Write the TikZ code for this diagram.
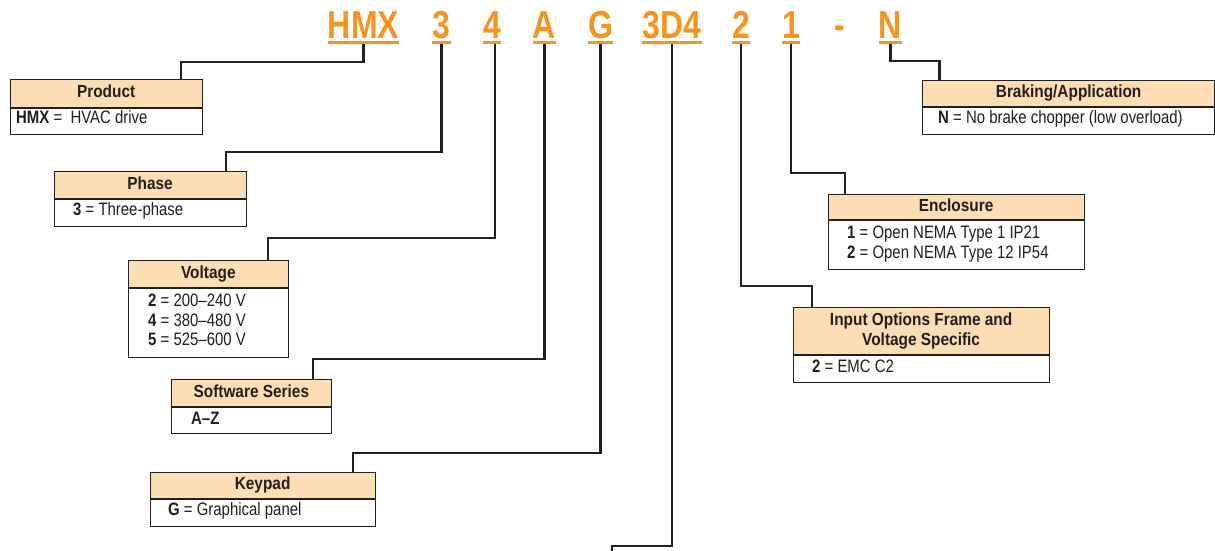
\documentclass[tikz,border=0pt]{standalone}
\usepackage{fontspec}
\setmainfont{Liberation Sans}[FakeStretch=0.83]
\newfontfamily\codefont{Liberation Sans}[FakeStretch=0.82]
\newfontfamily\hdrfont{Liberation Sans}[FakeStretch=0.88]
\usetikzlibrary{calc}
\definecolor{codeorange}{RGB}{247,148,30}
\definecolor{peach}{RGB}{253,221,180}
\definecolor{ink}{RGB}{35,31,32}
\tikzset{
 code/.style={font=\codefont\fontsize{39}{39}\selectfont\bfseries, text=codeorange, inner sep=0pt, anchor=base},
 uline/.style={draw=codeorange, line width=3pt},
 conn/.style={draw=ink, line width=2.2pt},
 hdr/.style={draw=ink, line width=1.2pt, fill=peach, inner sep=0pt, font=\hdrfont\fontsize{17.5}{20}\selectfont\bfseries, text=ink, align=center, anchor=north west},
 hdrone/.style={hdr, text height=12.5pt, text depth=4pt},
 bodybox/.style={draw=ink, line width=1.2pt, inner sep=0pt, anchor=north west},
 entry/.style={font=\fontsize{18}{19}\selectfont, text=ink, inner sep=0pt, anchor=base west},
}
\begin{document}
\begin{tikzpicture}[x=1pt,y=-1pt]
\useasboundingbox[fill=white] (0,0) rectangle (1215,550);

% code letters
\node[code] (hmx) at (363.5,38) {HMX};
\node[code] (three) at (441.5,38) {3};
\node[code] (four) at (492,38) {4};
\node[code] (ca) at (544.5,38) {A};
\node[code] (cg) at (600.5,38) {G};
\node[code] (d4) at (672,38) {3D4};
\node[code] (two) at (741,38) {2};
\node[code] (one) at (791,38) {1};
\node[code] (dash) at (840,38) {-};
\node[code] (cn) at (890.5,38) {N};
\foreach \n in {hmx,three,four,ca,cg,d4,two,one,cn}{
  \draw[uline] ([yshift=-4pt]\n.south west) -- ([yshift=-4pt]\n.south east);
}

% boxes
\node[hdrone, minimum width=192pt, minimum height=27.5pt] (prodH) at (9.5,79) {Product};
\node[bodybox, minimum width=192pt, minimum height=26pt] (prodB) at (prodH.south west) {};
\node[entry] (prodT) at (16,123.5) {\textbf{HMX} = \ HVAC drive};

\node[hdrone, minimum width=192pt, minimum height=27pt] (phaseH) at (53.5,171) {Phase};
\node[bodybox, minimum width=192pt, minimum height=27pt] (phaseB) at (phaseH.south west) {};
\node[entry] (phaseT) at (73,215) {\textbf{3} = Three-phase};

\node[hdrone, minimum width=159.5pt, minimum height=27pt] (voltH) at (128,260) {Voltage};
\node[bodybox, minimum width=159.5pt, minimum height=69pt] (voltB) at (voltH.south west) {};
\node[entry] (voltT1) at (148,306.7) {\textbf{2} = 200--240 V};
\node[entry] (voltT2) at (148,326.2) {\textbf{4} = 380--480 V};
\node[entry] (voltT3) at (148,345.7) {\textbf{5} = 525--600 V};

\node[hdrone, minimum width=159.5pt, minimum height=26.5pt] (softH) at (171,379) {Software Series};
\node[bodybox, minimum width=159.5pt, minimum height=26.5pt] (softB) at (softH.south west) {};
\node[entry] (softT) at (191,424) {\textbf{A--Z}};

\node[hdrone, minimum width=225pt, minimum height=26.5pt] (keyH) at (149.5,471.5) {Keypad};
\node[bodybox, minimum width=225pt, minimum height=27pt] (keyB) at (keyH.south west) {};
\node[entry] (keyT) at (168,515.7) {\textbf{G} = Graphical panel};

\node[hdrone, minimum width=292pt, minimum height=26.5pt] (brakeH) at (922,79.5) {Braking/Application};
\node[bodybox, minimum width=292pt, minimum height=26.5pt] (brakeB) at (brakeH.south west) {};
\node[entry] (brakeT) at (938,123.3) {\textbf{N} = No brake chopper (low overload)};

\node[hdrone, minimum width=256pt, minimum height=25.5pt] (enclH) at (827.5,193.5) {Enclosure};
\node[bodybox, minimum width=256pt, minimum height=48.5pt] (enclB) at (enclH.south west) {};
\node[entry] (enclT1) at (847,238.3) {\textbf{1} = Open NEMA Type 1 IP21};
\node[entry] (enclT2) at (847,258.3) {\textbf{2} = Open NEMA Type 12 IP54};

\node[hdr, minimum width=256pt, minimum height=47.5pt] (inH) at (792.5,306.5) {Input Options Frame and\\[-0.5pt]Voltage Specific};
\node[bodybox, minimum width=256pt, minimum height=27pt] (inB) at (inH.south west) {};
\node[entry] (inT) at (812,372.7) {\textbf{2} = EMC C2};

% connectors
\draw[conn] ([yshift=-5.5pt]hmx.south) |- (181,62) -- ($(prodH.north west)+(171.5,0)$);
\draw[conn] ([yshift=-5.5pt]three.south) |- (226,152) -- ($(phaseH.north west)+(172.5,0)$);
\draw[conn] ([xshift=3pt,yshift=-5.5pt]four.south) |- (268,238) -- ($(voltH.north west)+(140,0)$);
\draw[conn] ([yshift=-5.5pt]ca.south) |- (313,359) -- ($(softH.north west)+(142,0)$);
\draw[conn] ([yshift=-5.5pt]cg.south) |- (353,453) -- ($(keyH.north west)+(203.5,0)$);
\coordinate (d4end) at (612,551);
\draw[conn] ([yshift=-5.5pt]d4.south) |- (612,546) -- (d4end);
\draw[conn] ([yshift=-5.5pt]two.south) |- (812,286) -- ($(inH.north west)+(19.5,0)$);
\draw[conn] ([yshift=-5.5pt]one.south) |- (845,173) -- ($(enclH.north west)+(17.5,0)$);
\draw[conn] ([yshift=-5.5pt]cn.south) |- (939.5,61) -- ($(brakeH.north west)+(17.5,0)$);
\end{tikzpicture}
\end{document}
